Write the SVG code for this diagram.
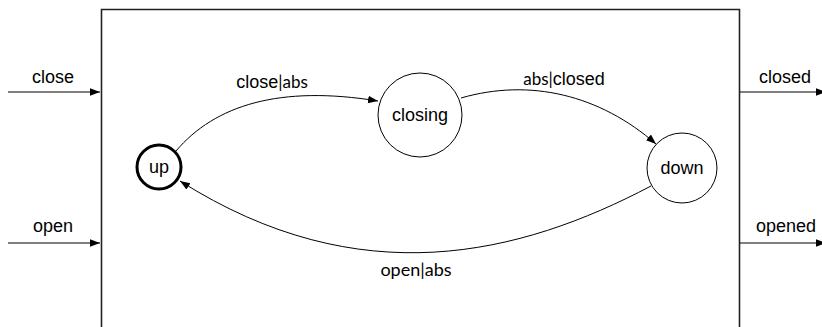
<svg xmlns="http://www.w3.org/2000/svg" width="822" height="327" viewBox="0 0 822 327">
<style>
.lbl{font-family:"Liberation Sans",Arial,sans-serif;font-size:18px;fill:#000}
.alt{font-family:Lato,"DejaVu Sans",sans-serif;font-size:17px}
.edge{fill:none;stroke:#000;stroke-width:1}
.node{fill:#fff;stroke:#000;stroke-width:1}
</style>
<defs>
<marker id="arr" viewBox="0 0 10 10" refX="10" refY="5" markerWidth="10" markerHeight="10" markerUnits="userSpaceOnUse" orient="auto">
<path d="M0,1.2 L10,5 L0,8.8 z" fill="#000"/>
</marker>
</defs>
<g id="box">
<path d="M101.5,330 V9.5 H739.5 V330" fill="none" stroke="#222" stroke-width="1.6"/>
</g>
<g id="connectors">
<line class="edge" x1="8" y1="92" x2="100" y2="92" marker-end="url(#arr)"/>
<line class="edge" x1="8" y1="243" x2="100" y2="243" marker-end="url(#arr)"/>
<line class="edge" x1="740" y1="92" x2="826" y2="92" marker-end="url(#arr)"/>
<line class="edge" x1="740" y1="243" x2="826" y2="243" marker-end="url(#arr)"/>
<path class="edge" d="M176,151 C215,105 280,85 378,101" marker-end="url(#arr)"/>
<path class="edge" d="M461,98 C530,78 600,95 656,144" marker-end="url(#arr)"/>
<path class="edge" d="M651,186 C520,255 360,295 180,181" marker-end="url(#arr)"/>
</g>
<g id="in-close"><text class="lbl" x="53" y="83" text-anchor="middle">close</text></g>
<g id="in-open"><text class="lbl" x="53" y="232" text-anchor="middle">open</text></g>
<g id="out-closed"><text class="lbl" x="785" y="83" text-anchor="middle">closed</text></g>
<g id="out-opened"><text class="lbl" x="786" y="232" text-anchor="middle">opened</text></g>
<g id="up">
<circle cx="159" cy="167" r="22" fill="#fff" stroke="#000" stroke-width="3"/>
<text class="lbl" x="159" y="173" text-anchor="middle">up</text>
</g>
<g id="closing">
<circle class="node" cx="420" cy="115" r="42"/>
<text class="lbl" x="420" y="121" text-anchor="middle">closing</text>
</g>
<g id="down">
<circle class="node" cx="682" cy="168" r="35"/>
<text class="lbl" x="682" y="174" text-anchor="middle">down</text>
</g>
<g id="lbl-close-abs"><text class="lbl" x="272" y="88" text-anchor="middle">close<tspan class="alt">|abs</tspan></text></g>
<g id="lbl-abs-closed"><text class="lbl" x="564" y="85" text-anchor="middle"><tspan class="alt">abs|</tspan>closed</text></g>
<g id="lbl-open-abs"><text class="lbl alt" x="416" y="276" text-anchor="middle" style="font-size:18px">open|abs</text></g>
</svg>
